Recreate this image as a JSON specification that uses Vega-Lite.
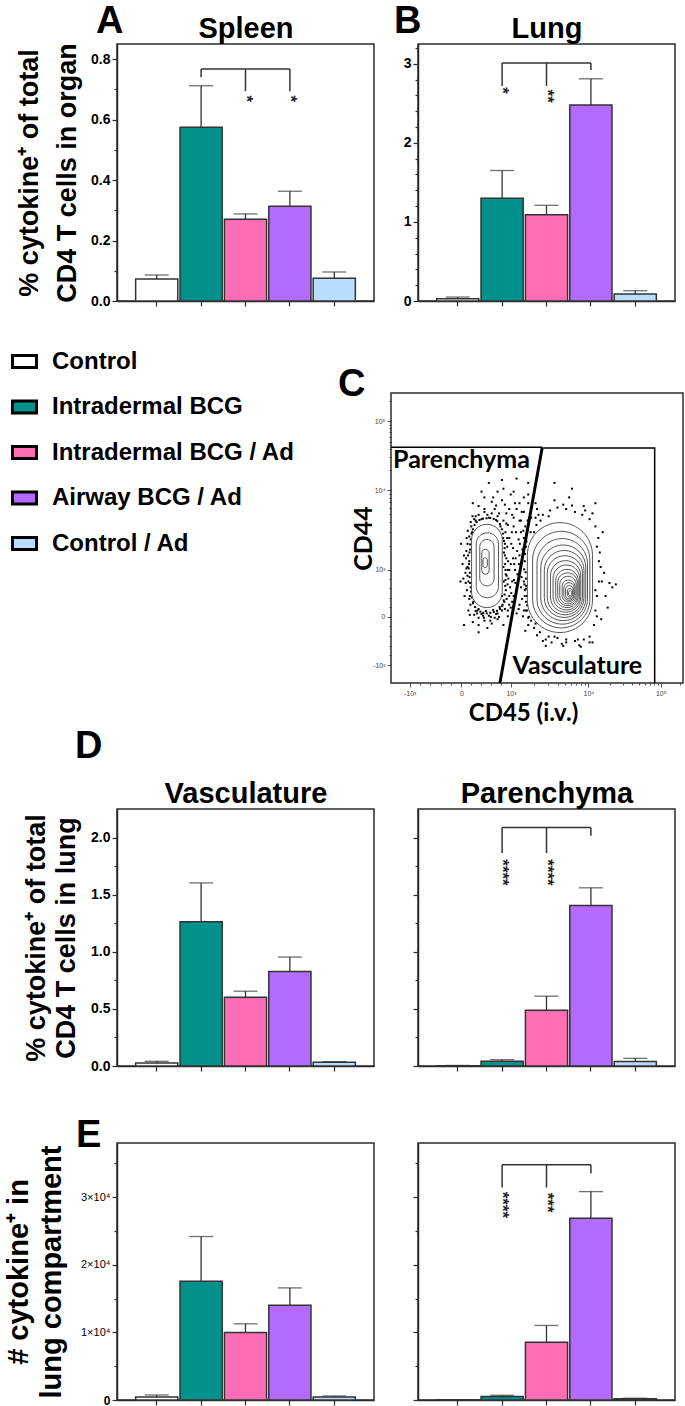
{
  "$schema": "https://vega.github.io/schema/vega-lite/v6.json",
  "padding": {"left": 3, "top": 2, "right": 0, "bottom": 0},
  "background": "white",
  "config": {
    "font": "Liberation Sans",
    "view": {"stroke": "#2b2b2b", "strokeWidth": 1.5},
    "axis": {
      "grid": false, "domainColor": "#2b2b2b", "domainWidth": 1.5, "tickColor": "#2b2b2b", "tickWidth": 1.2,
      "labelFont": "Liberation Sans", "labelFontWeight": "bold", "labelFontSize": 14, "labelColor": "black",
      "labelPadding": 2, "labelOverlap": false, "labelFlush": false,
      "titleFont": "Liberation Sans", "titleFontWeight": "bold", "titleColor": "black"
    },
    "title": {"font": "Liberation Sans", "fontWeight": "bold", "fontSize": 38, "color": "black", "anchor": "start", "frame": "group", "baseline": "alphabetic"}
  },
  "datasets": {
    "bars": [
      {"panel": "Spleen", "group": "Control", "mean": 0.073, "upper": 0.086},
      {"panel": "Spleen", "group": "Intradermal BCG", "mean": 0.575, "upper": 0.712},
      {"panel": "Spleen", "group": "Intradermal BCG / Ad", "mean": 0.27, "upper": 0.288},
      {"panel": "Spleen", "group": "Airway BCG / Ad", "mean": 0.313, "upper": 0.363},
      {"panel": "Spleen", "group": "Control / Ad", "mean": 0.075, "upper": 0.096},
      {"panel": "Lung", "group": "Control", "mean": 0.03, "upper": 0.05},
      {"panel": "Lung", "group": "Intradermal BCG", "mean": 1.3, "upper": 1.65},
      {"panel": "Lung", "group": "Intradermal BCG / Ad", "mean": 1.09, "upper": 1.21},
      {"panel": "Lung", "group": "Airway BCG / Ad", "mean": 2.48, "upper": 2.81},
      {"panel": "Lung", "group": "Control / Ad", "mean": 0.09, "upper": 0.13},
      {"panel": "VascPct", "group": "Control", "mean": 0.026, "upper": 0.041},
      {"panel": "VascPct", "group": "Intradermal BCG", "mean": 1.263, "upper": 1.603},
      {"panel": "VascPct", "group": "Intradermal BCG / Ad", "mean": 0.602, "upper": 0.655},
      {"panel": "VascPct", "group": "Airway BCG / Ad", "mean": 0.828, "upper": 0.954},
      {"panel": "VascPct", "group": "Control / Ad", "mean": 0.032, "upper": 0.038},
      {"panel": "ParPct", "group": "Control", "mean": 0.003, "upper": 0.005},
      {"panel": "ParPct", "group": "Intradermal BCG", "mean": 0.041, "upper": 0.055},
      {"panel": "ParPct", "group": "Intradermal BCG / Ad", "mean": 0.488, "upper": 0.611},
      {"panel": "ParPct", "group": "Airway BCG / Ad", "mean": 1.405, "upper": 1.56},
      {"panel": "ParPct", "group": "Control / Ad", "mean": 0.04, "upper": 0.067},
      {"panel": "VascNum", "group": "Control", "mean": 447, "upper": 744},
      {"panel": "VascNum", "group": "Intradermal BCG", "mean": 17568, "upper": 24169},
      {"panel": "VascNum", "group": "Intradermal BCG / Ad", "mean": 9975, "upper": 11266},
      {"panel": "VascNum", "group": "Airway BCG / Ad", "mean": 13995, "upper": 16576},
      {"panel": "VascNum", "group": "Control / Ad", "mean": 447, "upper": 596},
      {"panel": "ParNum", "group": "Control", "mean": 30, "upper": 50},
      {"panel": "ParNum", "group": "Intradermal BCG", "mean": 504, "upper": 696},
      {"panel": "ParNum", "group": "Intradermal BCG / Ad", "mean": 8548, "upper": 11022},
      {"panel": "ParNum", "group": "Airway BCG / Ad", "mean": 26874, "upper": 30815},
      {"panel": "ParNum", "group": "Control / Ad", "mean": 180, "upper": 260}
    ],
    "bracket_h": [
      {"panel": "Spleen", "from": "Intradermal BCG", "to": "Airway BCG / Ad", "y": 0.767},
      {"panel": "Lung", "from": "Intradermal BCG", "to": "Airway BCG / Ad", "y": 3.01},
      {"panel": "ParPct", "from": "Intradermal BCG", "to": "Airway BCG / Ad", "y": 2.089},
      {"panel": "ParNum", "from": "Intradermal BCG", "to": "Airway BCG / Ad", "y": 34770}
    ],
    "bracket_v": [
      {"panel": "Spleen", "group": "Intradermal BCG", "y": 0.767, "y2": 0.74},
      {"panel": "Spleen", "group": "Intradermal BCG / Ad", "y": 0.767, "y2": 0.694},
      {"panel": "Spleen", "group": "Airway BCG / Ad", "y": 0.767, "y2": 0.694},
      {"panel": "Lung", "group": "Intradermal BCG", "y": 3.01, "y2": 2.72},
      {"panel": "Lung", "group": "Intradermal BCG / Ad", "y": 3.01, "y2": 2.72},
      {"panel": "Lung", "group": "Airway BCG / Ad", "y": 3.01, "y2": 2.92},
      {"panel": "ParPct", "group": "Intradermal BCG", "y": 2.089, "y2": 1.864},
      {"panel": "ParPct", "group": "Intradermal BCG / Ad", "y": 2.089, "y2": 1.864},
      {"panel": "ParPct", "group": "Airway BCG / Ad", "y": 2.089, "y2": 2.016},
      {"panel": "ParNum", "group": "Intradermal BCG", "y": 34770, "y2": 31407},
      {"panel": "ParNum", "group": "Intradermal BCG / Ad", "y": 34770, "y2": 31407},
      {"panel": "ParNum", "group": "Airway BCG / Ad", "y": 34770, "y2": 33481}
    ],
    "stars": [
      {"panel": "Spleen", "group": "Intradermal BCG / Ad", "y": 0.669, "label": "*"},
      {"panel": "Spleen", "group": "Airway BCG / Ad", "y": 0.669, "label": "*"},
      {"panel": "Lung", "group": "Intradermal BCG", "y": 2.66, "label": "*"},
      {"panel": "Lung", "group": "Intradermal BCG / Ad", "y": 2.59, "label": "**"},
      {"panel": "ParPct", "group": "Intradermal BCG", "y": 1.694, "label": "****"},
      {"panel": "ParPct", "group": "Intradermal BCG / Ad", "y": 1.694, "label": "****"},
      {"panel": "ParNum", "group": "Intradermal BCG", "y": 28844, "label": "****"},
      {"panel": "ParNum", "group": "Intradermal BCG / Ad", "y": 29185, "label": "***"}
    ],
    "contours": [
      {"pop": "left", "x1": 276, "x2": 381, "y1": 260, "y2": 547},
      {"pop": "left", "x1": 292, "x2": 368, "y1": 294, "y2": 518},
      {"pop": "left", "x1": 304, "x2": 353, "y1": 335, "y2": 495},
      {"pop": "left", "x1": 311, "x2": 336, "y1": 375, "y2": 461},
      {"pop": "left", "x1": 315, "x2": 330, "y1": 398, "y2": 432},
      {"pop": "right", "x1": 467, "x2": 690, "y1": 174, "y2": 553},
      {"pop": "right", "x1": 485, "x2": 681, "y1": 190, "y2": 523},
      {"pop": "right", "x1": 500, "x2": 673, "y1": 203, "y2": 498},
      {"pop": "right", "x1": 513, "x2": 667, "y1": 215, "y2": 476},
      {"pop": "right", "x1": 525, "x2": 661, "y1": 226, "y2": 457},
      {"pop": "right", "x1": 535, "x2": 656, "y1": 235, "y2": 439},
      {"pop": "right", "x1": 546, "x2": 650, "y1": 244, "y2": 422},
      {"pop": "right", "x1": 555, "x2": 646, "y1": 252, "y2": 407},
      {"pop": "right", "x1": 564, "x2": 641, "y1": 260, "y2": 392},
      {"pop": "right", "x1": 571, "x2": 638, "y1": 267, "y2": 380},
      {"pop": "right", "x1": 578, "x2": 634, "y1": 273, "y2": 368},
      {"pop": "right", "x1": 586, "x2": 630, "y1": 280, "y2": 355},
      {"pop": "right", "x1": 592, "x2": 627, "y1": 285, "y2": 346},
      {"pop": "right", "x1": 598, "x2": 624, "y1": 290, "y2": 336},
      {"pop": "right", "x1": 604, "x2": 621, "y1": 296, "y2": 326},
      {"pop": "right", "x1": 608, "x2": 619, "y1": 300, "y2": 318}
    ],
    "gates": [
      {"seg": "parenchyma", "ord": 1, "x": 0, "y": 813},
      {"seg": "parenchyma", "ord": 2, "x": 518, "y": 813},
      {"seg": "vasculature", "ord": 1, "x": 522, "y": 810},
      {"seg": "vasculature", "ord": 2, "x": 903, "y": 810},
      {"seg": "vasculature", "ord": 3, "x": 903, "y": 0},
      {"seg": "diagonal", "ord": 1, "x": 518, "y": 813},
      {"seg": "diagonal", "ord": 2, "x": 373, "y": 0}
    ],
    "gate_labels": [
      {"label": "Parenchyma", "x": 7, "y": 742},
      {"label": "Vasculature", "x": 416, "y": 31}
    ],
    "dots": [
      {"x": 262, "y": 400}, {"x": 258, "y": 455}, {"x": 265, "y": 350}, {"x": 270, "y": 300}, {"x": 268, "y": 505},
      {"x": 275, "y": 540}, {"x": 285, "y": 565}, {"x": 300, "y": 580}, {"x": 320, "y": 590}, {"x": 345, "y": 585},
      {"x": 365, "y": 575}, {"x": 385, "y": 560}, {"x": 392, "y": 520}, {"x": 398, "y": 470}, {"x": 401, "y": 420},
      {"x": 396, "y": 370}, {"x": 393, "y": 320}, {"x": 388, "y": 280}, {"x": 380, "y": 250}, {"x": 360, "y": 238},
      {"x": 335, "y": 232}, {"x": 310, "y": 238}, {"x": 290, "y": 248}, {"x": 272, "y": 270}, {"x": 260, "y": 320},
      {"x": 255, "y": 380}, {"x": 257, "y": 430}, {"x": 262, "y": 480}, {"x": 250, "y": 440}, {"x": 248, "y": 360},
      {"x": 279, "y": 575}, {"x": 355, "y": 600}, {"x": 400, "y": 545}, {"x": 405, "y": 300}, {"x": 300, "y": 225},
      {"x": 340, "y": 215}, {"x": 370, "y": 228}, {"x": 265, "y": 250}, {"x": 252, "y": 300}, {"x": 245, "y": 410},
      {"x": 280, "y": 210}, {"x": 300, "y": 200}, {"x": 320, "y": 215}, {"x": 345, "y": 205}, {"x": 365, "y": 220},
      {"x": 385, "y": 200}, {"x": 400, "y": 230}, {"x": 270, "y": 235},
      {"x": 270, "y": 380}, {"x": 268, "y": 420}, {"x": 271, "y": 460}, {"x": 273, "y": 330}, {"x": 385, "y": 400},
      {"x": 386, "y": 350}, {"x": 387, "y": 450}, {"x": 384, "y": 500}, {"x": 380, "y": 300}, {"x": 290, "y": 560},
      {"x": 310, "y": 565}, {"x": 335, "y": 570}, {"x": 360, "y": 562}, {"x": 300, "y": 255}, {"x": 325, "y": 248},
      {"x": 350, "y": 252}, {"x": 372, "y": 262}, {"x": 282, "y": 280}, {"x": 278, "y": 520}, {"x": 375, "y": 540},
      {"x": 262, "y": 370}, {"x": 264, "y": 440}, {"x": 395, "y": 430}, {"x": 392, "y": 390}, {"x": 390, "y": 480},
      {"x": 382, "y": 270}, {"x": 295, "y": 240}, {"x": 318, "y": 225}, {"x": 355, "y": 225}, {"x": 268, "y": 290},
      {"x": 266, "y": 395}, {"x": 267, "y": 410}, {"x": 269, "y": 365}, {"x": 271, "y": 345}, {"x": 274, "y": 315},
      {"x": 277, "y": 295}, {"x": 281, "y": 275}, {"x": 288, "y": 262}, {"x": 296, "y": 250}, {"x": 306, "y": 246},
      {"x": 316, "y": 242}, {"x": 328, "y": 240}, {"x": 340, "y": 242}, {"x": 352, "y": 245}, {"x": 363, "y": 249},
      {"x": 373, "y": 255}, {"x": 381, "y": 265}, {"x": 386, "y": 285}, {"x": 389, "y": 305}, {"x": 391, "y": 335},
      {"x": 392, "y": 355}, {"x": 393, "y": 375}, {"x": 391, "y": 410}, {"x": 390, "y": 440}, {"x": 389, "y": 465},
      {"x": 387, "y": 490}, {"x": 384, "y": 515}, {"x": 380, "y": 530}, {"x": 373, "y": 548}, {"x": 364, "y": 558},
      {"x": 352, "y": 566}, {"x": 340, "y": 569}, {"x": 327, "y": 568}, {"x": 315, "y": 567}, {"x": 303, "y": 562},
      {"x": 293, "y": 555}, {"x": 286, "y": 545}, {"x": 280, "y": 530}, {"x": 276, "y": 515}, {"x": 273, "y": 495},
      {"x": 271, "y": 478}, {"x": 269, "y": 450}, {"x": 258, "y": 395}, {"x": 256, "y": 345}, {"x": 259, "y": 500},
      {"x": 263, "y": 525}, {"x": 273, "y": 555}, {"x": 290, "y": 575}, {"x": 330, "y": 580}, {"x": 370, "y": 585},
      {"x": 395, "y": 550}, {"x": 398, "y": 500}, {"x": 400, "y": 390}, {"x": 399, "y": 340}, {"x": 396, "y": 290},
      {"x": 390, "y": 255}, {"x": 365, "y": 240}, {"x": 342, "y": 228}, {"x": 315, "y": 232}, {"x": 285, "y": 235},
      {"x": 410, "y": 260}, {"x": 420, "y": 300}, {"x": 415, "y": 350}, {"x": 425, "y": 390}, {"x": 418, "y": 430},
      {"x": 412, "y": 480}, {"x": 428, "y": 520}, {"x": 440, "y": 270}, {"x": 445, "y": 330}, {"x": 438, "y": 410},
      {"x": 450, "y": 460}, {"x": 455, "y": 500}, {"x": 462, "y": 280}, {"x": 455, "y": 350}, {"x": 458, "y": 420},
      {"x": 462, "y": 470}, {"x": 458, "y": 300}, {"x": 462, "y": 250}, {"x": 461, "y": 382}, {"x": 459, "y": 445},
      {"x": 430, "y": 240}, {"x": 452, "y": 230}, {"x": 470, "y": 225}, {"x": 405, "y": 390}, {"x": 432, "y": 455},
      {"x": 447, "y": 365}, {"x": 460, "y": 540}, {"x": 440, "y": 560}, {"x": 420, "y": 570}, {"x": 478, "y": 520},
      {"x": 464, "y": 488}, {"x": 463, "y": 335}, {"x": 472, "y": 228}, {"x": 408, "y": 330}, {"x": 426, "y": 345},
      {"x": 458, "y": 320}, {"x": 437, "y": 495}, {"x": 414, "y": 520}, {"x": 457, "y": 340}, {"x": 456, "y": 392},
      {"x": 400, "y": 250}, {"x": 415, "y": 280}, {"x": 430, "y": 320}, {"x": 402, "y": 360}, {"x": 422, "y": 410},
      {"x": 440, "y": 440}, {"x": 455, "y": 470}, {"x": 405, "y": 500}, {"x": 420, "y": 540}, {"x": 445, "y": 520},
      {"x": 465, "y": 300}, {"x": 462, "y": 360}, {"x": 490, "y": 520}, {"x": 468, "y": 560}, {"x": 448, "y": 590},
      {"x": 425, "y": 620}, {"x": 470, "y": 620}, {"x": 498, "y": 545}, {"x": 466, "y": 250}, {"x": 470, "y": 200},
      {"x": 460, "y": 180}, {"x": 495, "y": 205}, {"x": 455, "y": 250},
      {"x": 405, "y": 270}, {"x": 412, "y": 310}, {"x": 421, "y": 355}, {"x": 433, "y": 375}, {"x": 427, "y": 430},
      {"x": 441, "y": 480}, {"x": 453, "y": 525}, {"x": 449, "y": 290}, {"x": 437, "y": 255}, {"x": 466, "y": 268},
      {"x": 410, "y": 410}, {"x": 418, "y": 465}, {"x": 446, "y": 415}, {"x": 462, "y": 325}, {"x": 452, "y": 440},
      {"x": 300, "y": 610}, {"x": 320, "y": 640}, {"x": 345, "y": 625}, {"x": 365, "y": 660}, {"x": 390, "y": 615},
      {"x": 410, "y": 650}, {"x": 430, "y": 600}, {"x": 455, "y": 640}, {"x": 470, "y": 690}, {"x": 495, "y": 620},
      {"x": 380, "y": 700}, {"x": 335, "y": 690}, {"x": 430, "y": 705}, {"x": 505, "y": 580}, {"x": 480, "y": 570},
      {"x": 415, "y": 580}, {"x": 360, "y": 612}, {"x": 310, "y": 660}, {"x": 445, "y": 560}, {"x": 395, "y": 585},
      {"x": 320, "y": 600}, {"x": 350, "y": 640}, {"x": 380, "y": 630}, {"x": 405, "y": 600}, {"x": 440, "y": 620},
      {"x": 470, "y": 650}, {"x": 500, "y": 600}, {"x": 455, "y": 590}, {"x": 420, "y": 660}, {"x": 385, "y": 670},
      {"x": 520, "y": 580}, {"x": 545, "y": 595}, {"x": 570, "y": 605}, {"x": 600, "y": 600}, {"x": 630, "y": 590},
      {"x": 655, "y": 580}, {"x": 680, "y": 565}, {"x": 700, "y": 540}, {"x": 710, "y": 500}, {"x": 715, "y": 450},
      {"x": 718, "y": 400}, {"x": 712, "y": 350}, {"x": 705, "y": 300}, {"x": 700, "y": 250}, {"x": 695, "y": 200},
      {"x": 680, "y": 160}, {"x": 660, "y": 150}, {"x": 630, "y": 145}, {"x": 600, "y": 150}, {"x": 570, "y": 155},
      {"x": 540, "y": 160}, {"x": 510, "y": 175}, {"x": 490, "y": 190}, {"x": 480, "y": 215}, {"x": 512, "y": 560},
      {"x": 540, "y": 575}, {"x": 590, "y": 615}, {"x": 620, "y": 612}, {"x": 665, "y": 595}, {"x": 690, "y": 585},
      {"x": 725, "y": 520}, {"x": 730, "y": 380}, {"x": 735, "y": 300}, {"x": 720, "y": 220}, {"x": 690, "y": 140},
      {"x": 645, "y": 130}, {"x": 585, "y": 135}, {"x": 520, "y": 145}, {"x": 560, "y": 630}, {"x": 610, "y": 640},
      {"x": 500, "y": 165}, {"x": 530, "y": 150}, {"x": 560, "y": 160}, {"x": 600, "y": 140}, {"x": 640, "y": 150},
      {"x": 470, "y": 560}, {"x": 495, "y": 570}, {"x": 705, "y": 470}, {"x": 712, "y": 420}, {"x": 705, "y": 230},
      {"x": 680, "y": 140}, {"x": 550, "y": 140}, {"x": 700, "y": 320}, {"x": 722, "y": 350}, {"x": 660, "y": 610},
      {"x": 758, "y": 330}, {"x": 748, "y": 345}, {"x": 742, "y": 260}, {"x": 530, "y": 128}, {"x": 650, "y": 125},
      {"x": 590, "y": 128}, {"x": 300, "y": 175}, {"x": 330, "y": 190}, {"x": 250, "y": 200}, {"x": 238, "y": 350},
      {"x": 240, "y": 480}, {"x": 280, "y": 620}, {"x": 560, "y": 690}, {"x": 620, "y": 670}, {"x": 700, "y": 620},
      {"x": 770, "y": 340}
    ]
  },
  "columns": 2,
  "spacing": {"row": 0, "column": 44},
  "bounds": "flush",
  "resolve": {"legend": {"color": "independent"}},
  "concat": [
    {
      "width": 257, "height": 257,
      "title": {"text": "A", "dx": -21, "offset": -27},
      "layer": [
        {
          "data": {"name": "bars"},
          "transform": [{"filter": "datum.panel == 'Spleen'"}],
          "mark": {"type": "bar", "stroke": "#333333", "strokeWidth": 1.5},
          "encoding": {
            "x": {"field": "group", "type": "nominal",
              "scale": {"domain": ["Control", "Intradermal BCG", "Intradermal BCG / Ad", "Airway BCG / Ad", "Control / Ad"], "paddingInner": 0.05, "paddingOuter": 0.42},
              "axis": {"labels": false, "tickSize": 5, "title": "Spleen", "titleFontSize": 29, "titleX": 128.5, "titleY": -264, "titleAlign": "center", "titleBaseline": "alphabetic"}},
            "y": {"field": "mean", "type": "quantitative", "scale": {"domain": [0, 0.85], "nice": false},
              "axis": {"values": [0, 0.1, 0.2, 0.3, 0.4, 0.5, 0.6, 0.7, 0.8], "tickCount": 100, "labelOverlap": false,
                "labelExpr": "round(datum.value*10) % 2 == 0 ? format(datum.value, '.1f') : ''",
                "tickSize": {"condition": {"test": "round(datum.value*10) % 2 == 0", "value": 5}, "value": 3},
                "title": ["% cytokine⁺ of total", "CD4 T cells in organ"], "titleFontSize": 27, "titleX": -80, "titleY": 128.5,
                "titleAngle": -90, "titleAlign": "center", "titleBaseline": "alphabetic", "titleLineHeight": 38}},
            "color": {"field": "group", "type": "nominal",
              "scale": {"domain": ["Control", "Intradermal BCG", "Intradermal BCG / Ad", "Airway BCG / Ad", "Control / Ad"], "range": ["#ffffff", "#00918d", "#ff6eb4", "#b36bff", "#b9dcff"]},
              "legend": {"orient": "none", "legendX": -106, "legendY": 304, "title": null, "padding": 0,
                "symbolType": "M-1,-0.5H1V0.5H-1Z", "symbolSize": 576, "symbolStrokeWidth": 3, "symbolStrokeColor": "black",
                "labelFont": "Liberation Sans", "labelFontWeight": "bold", "labelFontSize": 24, "labelColor": "black",
                "labelOffset": 14, "labelLimit": 400, "rowPadding": 19.5,
                "encode": {"symbols": {"update": {"stroke": {"value": "black"}, "strokeWidth": {"value": 3}}}}}}
          }
        },
        {
          "data": {"name": "bars"},
          "transform": [{"filter": "datum.panel == 'Spleen'"}],
          "mark": {"type": "rule", "color": "#333333", "strokeWidth": 1.3},
          "encoding": {
            "x": {"field": "group", "type": "nominal", "scale": {"domain": ["Control", "Intradermal BCG", "Intradermal BCG / Ad", "Airway BCG / Ad", "Control / Ad"], "paddingInner": 0.05, "paddingOuter": 0.42}},
            "y": {"field": "mean", "type": "quantitative", "scale": {"domain": [0, 0.85], "nice": false}},
            "y2": {"field": "upper"}
          }
        },
        {
          "data": {"name": "bars"},
          "transform": [{"filter": "datum.panel == 'Spleen'"}],
          "mark": {"type": "tick", "color": "#333333", "thickness": 1.3, "size": 24},
          "encoding": {
            "x": {"field": "group", "type": "nominal", "scale": {"domain": ["Control", "Intradermal BCG", "Intradermal BCG / Ad", "Airway BCG / Ad", "Control / Ad"], "paddingInner": 0.05, "paddingOuter": 0.42}},
            "y": {"field": "upper", "type": "quantitative", "scale": {"domain": [0, 0.85], "nice": false}}
          }
        },
        {
          "data": {"name": "bracket_h"},
          "transform": [{"filter": "datum.panel == 'Spleen'"}],
          "mark": {"type": "rule", "color": "#333333", "strokeWidth": 1.5},
          "encoding": {
            "x": {"field": "from", "type": "nominal", "scale": {"domain": ["Control", "Intradermal BCG", "Intradermal BCG / Ad", "Airway BCG / Ad", "Control / Ad"], "paddingInner": 0.05, "paddingOuter": 0.42}},
            "x2": {"field": "to"},
            "y": {"field": "y", "type": "quantitative", "scale": {"domain": [0, 0.85], "nice": false}}
          }
        },
        {
          "data": {"name": "bracket_v"},
          "transform": [{"filter": "datum.panel == 'Spleen'"}],
          "mark": {"type": "rule", "color": "#333333", "strokeWidth": 1.5},
          "encoding": {
            "x": {"field": "group", "type": "nominal", "scale": {"domain": ["Control", "Intradermal BCG", "Intradermal BCG / Ad", "Airway BCG / Ad", "Control / Ad"], "paddingInner": 0.05, "paddingOuter": 0.42}},
            "y": {"field": "y", "type": "quantitative", "scale": {"domain": [0, 0.85], "nice": false}},
            "y2": {"field": "y2"}
          }
        },
        {
          "data": {"name": "stars"},
          "transform": [{"filter": "datum.panel == 'Spleen'"}],
          "mark": {"type": "text", "angle": 90, "fontSize": 17, "fontWeight": "bold", "color": "#222222"},
          "encoding": {
            "x": {"field": "group", "type": "nominal", "scale": {"domain": ["Control", "Intradermal BCG", "Intradermal BCG / Ad", "Airway BCG / Ad", "Control / Ad"], "paddingInner": 0.05, "paddingOuter": 0.42}},
            "y": {"field": "y", "type": "quantitative", "scale": {"domain": [0, 0.85], "nice": false}},
            "text": {"field": "label"}
          }
        }
      ]
    },
    {
      "width": 257, "height": 257,
      "title": {"text": "B", "dx": -24, "offset": -27},
      "layer": [
        {
          "data": {"name": "bars"},
          "transform": [{"filter": "datum.panel == 'Lung'"}],
          "mark": {"type": "bar", "stroke": "#333333", "strokeWidth": 1.5},
          "encoding": {
            "x": {"field": "group", "type": "nominal",
              "scale": {"domain": ["Control", "Intradermal BCG", "Intradermal BCG / Ad", "Airway BCG / Ad", "Control / Ad"], "paddingInner": 0.05, "paddingOuter": 0.42},
              "axis": {"labels": false, "tickSize": 5, "title": "Lung", "titleFontSize": 29, "titleX": 128.5, "titleY": -264, "titleAlign": "center", "titleBaseline": "alphabetic"}},
            "y": {"field": "mean", "type": "quantitative", "scale": {"domain": [0, 3.25], "nice": false},
              "axis": {"values": [0, 0.2, 0.4, 0.6, 0.8, 1, 1.2, 1.4, 1.6, 1.8, 2, 2.2, 2.4, 2.6, 2.8, 3, 3.2], "tickCount": 100, "labelOverlap": false,
                "labelExpr": "indexof([0, 1, 2, 3], datum.value) >= 0 ? format(datum.value, 'd') : ''",
                "tickSize": {"condition": {"test": "indexof([0, 1, 2, 3], datum.value) >= 0", "value": 5}, "value": 3},
                "title": null}},
            "color": {"field": "group", "type": "nominal",
              "scale": {"domain": ["Control", "Intradermal BCG", "Intradermal BCG / Ad", "Airway BCG / Ad", "Control / Ad"], "range": ["#ffffff", "#00918d", "#ff6eb4", "#b36bff", "#b9dcff"]},
              "legend": null}
          }
        },
        {
          "data": {"name": "bars"},
          "transform": [{"filter": "datum.panel == 'Lung'"}],
          "mark": {"type": "rule", "color": "#333333", "strokeWidth": 1.3},
          "encoding": {
            "x": {"field": "group", "type": "nominal", "scale": {"domain": ["Control", "Intradermal BCG", "Intradermal BCG / Ad", "Airway BCG / Ad", "Control / Ad"], "paddingInner": 0.05, "paddingOuter": 0.42}},
            "y": {"field": "mean", "type": "quantitative", "scale": {"domain": [0, 3.25], "nice": false}},
            "y2": {"field": "upper"}
          }
        },
        {
          "data": {"name": "bars"},
          "transform": [{"filter": "datum.panel == 'Lung'"}],
          "mark": {"type": "tick", "color": "#333333", "thickness": 1.3, "size": 24},
          "encoding": {
            "x": {"field": "group", "type": "nominal", "scale": {"domain": ["Control", "Intradermal BCG", "Intradermal BCG / Ad", "Airway BCG / Ad", "Control / Ad"], "paddingInner": 0.05, "paddingOuter": 0.42}},
            "y": {"field": "upper", "type": "quantitative", "scale": {"domain": [0, 3.25], "nice": false}}
          }
        },
        {
          "data": {"name": "bracket_h"},
          "transform": [{"filter": "datum.panel == 'Lung'"}],
          "mark": {"type": "rule", "color": "#333333", "strokeWidth": 1.5},
          "encoding": {
            "x": {"field": "from", "type": "nominal", "scale": {"domain": ["Control", "Intradermal BCG", "Intradermal BCG / Ad", "Airway BCG / Ad", "Control / Ad"], "paddingInner": 0.05, "paddingOuter": 0.42}},
            "x2": {"field": "to"},
            "y": {"field": "y", "type": "quantitative", "scale": {"domain": [0, 3.25], "nice": false}}
          }
        },
        {
          "data": {"name": "bracket_v"},
          "transform": [{"filter": "datum.panel == 'Lung'"}],
          "mark": {"type": "rule", "color": "#333333", "strokeWidth": 1.5},
          "encoding": {
            "x": {"field": "group", "type": "nominal", "scale": {"domain": ["Control", "Intradermal BCG", "Intradermal BCG / Ad", "Airway BCG / Ad", "Control / Ad"], "paddingInner": 0.05, "paddingOuter": 0.42}},
            "y": {"field": "y", "type": "quantitative", "scale": {"domain": [0, 3.25], "nice": false}},
            "y2": {"field": "y2"}
          }
        },
        {
          "data": {"name": "stars"},
          "transform": [{"filter": "datum.panel == 'Lung'"}],
          "mark": {"type": "text", "angle": 90, "fontSize": 17, "fontWeight": "bold", "color": "#222222"},
          "encoding": {
            "x": {"field": "group", "type": "nominal", "scale": {"domain": ["Control", "Intradermal BCG", "Intradermal BCG / Ad", "Airway BCG / Ad", "Control / Ad"], "paddingInner": 0.05, "paddingOuter": 0.42}},
            "y": {"field": "y", "type": "quantitative", "scale": {"domain": [0, 3.25], "nice": false}},
            "text": {"field": "label"}
          }
        }
      ]
    },
    {"width": 257, "height": 92, "data": {"values": [{"k": 0}]}, "mark": {"type": "point", "opacity": 0}, "view": {"stroke": null}},
    {"width": 257, "height": 92, "data": {"values": [{"k": 0}]}, "mark": {"type": "point", "opacity": 0}, "view": {"stroke": null}},
    {
      "hconcat": [
        {"width": 230, "height": 290, "data": {"values": [{"k": 0}]}, "mark": {"type": "point", "opacity": 0}, "view": {"stroke": null}},
        {
          "width": 292, "height": 290,
          "title": {"text": "C", "dx": -53, "offset": -11},
          "layer": [
            {
              "data": {"name": "dots"},
              "mark": {"type": "square", "size": 4, "color": "black", "opacity": 1},
              "encoding": {
                "x": {"field": "x", "type": "quantitative", "scale": {"domain": [0, 1000], "nice": false, "zero": false},
                  "axis": {"values": [64, 99, 135, 170, 206, 241, 275, 309, 343, 377, 411, 491, 537, 571, 596, 617, 635, 650, 664, 676, 751, 794, 825, 849, 869, 886, 900, 913, 924, 990],
                    "tickCount": 100, "labelOverlap": false,
                    "labelExpr": "datum.value == 64 ? '-10³' : datum.value == 241 ? '0' : datum.value == 411 ? '10³' : datum.value == 676 ? '10⁴' : datum.value == 924 ? '10⁵' : ''",
                    "labelFontSize": 7, "labelFontWeight": "normal", "labelColor": "#444444", "domain": false, "tickWidth": 0.8,
                    "tickSize": {"condition": {"test": "indexof([64, 241, 411, 676, 924], datum.value) >= 0", "value": 4}, "value": 2},
                    "title": "CD45 (i.v.)", "titleFont": "Lato", "titleFontSize": 24, "titleX": 132, "titleY": 37, "titleAlign": "center", "titleBaseline": "alphabetic"}},
                "y": {"field": "y", "type": "quantitative", "scale": {"domain": [0, 1000], "nice": false, "zero": false},
                  "axis": {"values": [62, 95, 129, 162, 196, 229, 261, 294, 326, 359, 391, 473, 522, 556, 583, 604, 623, 638, 652, 665, 736, 778, 808, 831, 849, 865, 879, 891, 902, 973],
                    "tickCount": 100, "labelOverlap": false,
                    "labelExpr": "datum.value == 62 ? '-10³' : datum.value == 229 ? '0' : datum.value == 391 ? '10³' : datum.value == 665 ? '10⁴' : datum.value == 902 ? '10⁵' : ''",
                    "labelFontSize": 7, "labelFontWeight": "normal", "labelColor": "#444444", "domain": false, "tickWidth": 0.8,
                    "tickSize": {"condition": {"test": "indexof([62, 229, 391, 665, 902], datum.value) >= 0", "value": 4}, "value": 2},
                    "title": "CD44", "titleFont": "Lato", "titleFontSize": 25, "titleX": -20, "titleY": 145, "titleAngle": -90, "titleAlign": "center", "titleBaseline": "alphabetic"}}
              }
            },
            {
              "data": {"name": "contours"},
              "mark": {"type": "rect", "fill": "white", "fillOpacity": 0, "stroke": "#555555", "strokeWidth": 1, "cornerRadius": 400},
              "encoding": {
                "x": {"field": "x1", "type": "quantitative", "scale": {"domain": [0, 1000], "nice": false, "zero": false}},
                "x2": {"field": "x2"},
                "y": {"field": "y1", "type": "quantitative", "scale": {"domain": [0, 1000], "nice": false, "zero": false}},
                "y2": {"field": "y2"}
              }
            },
            {
              "data": {"name": "gates"},
              "transform": [{"filter": "datum.seg != 'diagonal'"}],
              "mark": {"type": "line", "color": "black", "strokeWidth": 1.5},
              "encoding": {
                "x": {"field": "x", "type": "quantitative", "scale": {"domain": [0, 1000], "nice": false, "zero": false}},
                "y": {"field": "y", "type": "quantitative", "scale": {"domain": [0, 1000], "nice": false, "zero": false}},
                "detail": {"field": "seg"},
                "order": {"field": "ord"}
              }
            },
            {
              "data": {"name": "gates"},
              "transform": [{"filter": "datum.seg == 'diagonal'"}],
              "mark": {"type": "line", "color": "black", "strokeWidth": 3},
              "encoding": {
                "x": {"field": "x", "type": "quantitative", "scale": {"domain": [0, 1000], "nice": false, "zero": false}},
                "y": {"field": "y", "type": "quantitative", "scale": {"domain": [0, 1000], "nice": false, "zero": false}},
                "order": {"field": "ord"}
              }
            },
            {
              "data": {"name": "gate_labels"},
              "mark": {"type": "text", "font": "Lato", "fontWeight": "bold", "fontSize": 25, "align": "left", "baseline": "alphabetic", "color": "black"},
              "encoding": {
                "x": {"field": "x", "type": "quantitative", "scale": {"domain": [0, 1000], "nice": false, "zero": false}},
                "y": {"field": "y", "type": "quantitative", "scale": {"domain": [0, 1000], "nice": false, "zero": false}},
                "text": {"field": "label"}
              }
            }
          ]
        }
      ],
      "spacing": 44,
      "bounds": "flush"
    },
    {"width": 257, "height": 290, "data": {"values": [{"k": 0}]}, "mark": {"type": "point", "opacity": 0}, "view": {"stroke": null}},
    {"width": 257, "height": 126, "data": {"values": [{"k": 0}]}, "mark": {"type": "point", "opacity": 0}, "view": {"stroke": null}},
    {"width": 257, "height": 126, "data": {"values": [{"k": 0}]}, "mark": {"type": "point", "opacity": 0}, "view": {"stroke": null}},
    {
      "width": 257, "height": 257,
      "title": {"text": "D", "dx": -42, "offset": 13},
      "layer": [
        {
          "data": {"name": "bars"},
          "transform": [{"filter": "datum.panel == 'VascPct'"}],
          "mark": {"type": "bar", "stroke": "#333333", "strokeWidth": 1.5},
          "encoding": {
            "x": {"field": "group", "type": "nominal",
              "scale": {"domain": ["Control", "Intradermal BCG", "Intradermal BCG / Ad", "Airway BCG / Ad", "Control / Ad"], "paddingInner": 0.05, "paddingOuter": 0.42},
              "axis": {"labels": false, "tickSize": 5, "title": "Vasculature", "titleFontSize": 29, "titleX": 128.5, "titleY": -264, "titleAlign": "center", "titleBaseline": "alphabetic"}},
            "y": {"field": "mean", "type": "quantitative", "scale": {"domain": [0, 2.25], "nice": false},
              "axis": {"values": [0, 0.25, 0.5, 0.75, 1, 1.25, 1.5, 1.75, 2], "tickCount": 100, "labelOverlap": false,
                "labelExpr": "indexof([0, 0.5, 1, 1.5, 2], datum.value) >= 0 ? format(datum.value, '.1f') : ''",
                "tickSize": {"condition": {"test": "indexof([0, 0.5, 1, 1.5, 2], datum.value) >= 0", "value": 5}, "value": 3},
                "title": ["% cytokine⁺ of total", "CD4 T cells in lung"], "titleFontSize": 27, "titleX": -73, "titleY": 128.5,
                "titleAngle": -90, "titleAlign": "center", "titleBaseline": "alphabetic", "titleLineHeight": 30}},
            "color": {"field": "group", "type": "nominal",
              "scale": {"domain": ["Control", "Intradermal BCG", "Intradermal BCG / Ad", "Airway BCG / Ad", "Control / Ad"], "range": ["#ffffff", "#00918d", "#ff6eb4", "#b36bff", "#b9dcff"]},
              "legend": null}
          }
        },
        {
          "data": {"name": "bars"},
          "transform": [{"filter": "datum.panel == 'VascPct'"}],
          "mark": {"type": "rule", "color": "#333333", "strokeWidth": 1.3},
          "encoding": {
            "x": {"field": "group", "type": "nominal", "scale": {"domain": ["Control", "Intradermal BCG", "Intradermal BCG / Ad", "Airway BCG / Ad", "Control / Ad"], "paddingInner": 0.05, "paddingOuter": 0.42}},
            "y": {"field": "mean", "type": "quantitative", "scale": {"domain": [0, 2.25], "nice": false}},
            "y2": {"field": "upper"}
          }
        },
        {
          "data": {"name": "bars"},
          "transform": [{"filter": "datum.panel == 'VascPct'"}],
          "mark": {"type": "tick", "color": "#333333", "thickness": 1.3, "size": 24},
          "encoding": {
            "x": {"field": "group", "type": "nominal", "scale": {"domain": ["Control", "Intradermal BCG", "Intradermal BCG / Ad", "Airway BCG / Ad", "Control / Ad"], "paddingInner": 0.05, "paddingOuter": 0.42}},
            "y": {"field": "upper", "type": "quantitative", "scale": {"domain": [0, 2.25], "nice": false}}
          }
        }
      ]
    },
    {
      "width": 257, "height": 257,
      "layer": [
        {
          "data": {"name": "bars"},
          "transform": [{"filter": "datum.panel == 'ParPct'"}],
          "mark": {"type": "bar", "stroke": "#333333", "strokeWidth": 1.5},
          "encoding": {
            "x": {"field": "group", "type": "nominal",
              "scale": {"domain": ["Control", "Intradermal BCG", "Intradermal BCG / Ad", "Airway BCG / Ad", "Control / Ad"], "paddingInner": 0.05, "paddingOuter": 0.42},
              "axis": {"labels": false, "tickSize": 5, "title": "Parenchyma", "titleFontSize": 29, "titleX": 128.5, "titleY": -264, "titleAlign": "center", "titleBaseline": "alphabetic"}},
            "y": {"field": "mean", "type": "quantitative", "scale": {"domain": [0, 2.25], "nice": false},
              "axis": {"values": [0, 0.25, 0.5, 0.75, 1, 1.25, 1.5, 1.75, 2], "tickCount": 100, "labels": false,
                "tickSize": {"condition": {"test": "indexof([0, 0.5, 1, 1.5, 2], datum.value) >= 0", "value": 5}, "value": 3},
                "title": null}},
            "color": {"field": "group", "type": "nominal",
              "scale": {"domain": ["Control", "Intradermal BCG", "Intradermal BCG / Ad", "Airway BCG / Ad", "Control / Ad"], "range": ["#ffffff", "#00918d", "#ff6eb4", "#b36bff", "#b9dcff"]},
              "legend": null}
          }
        },
        {
          "data": {"name": "bars"},
          "transform": [{"filter": "datum.panel == 'ParPct'"}],
          "mark": {"type": "rule", "color": "#333333", "strokeWidth": 1.3},
          "encoding": {
            "x": {"field": "group", "type": "nominal", "scale": {"domain": ["Control", "Intradermal BCG", "Intradermal BCG / Ad", "Airway BCG / Ad", "Control / Ad"], "paddingInner": 0.05, "paddingOuter": 0.42}},
            "y": {"field": "mean", "type": "quantitative", "scale": {"domain": [0, 2.25], "nice": false}},
            "y2": {"field": "upper"}
          }
        },
        {
          "data": {"name": "bars"},
          "transform": [{"filter": "datum.panel == 'ParPct'"}],
          "mark": {"type": "tick", "color": "#333333", "thickness": 1.3, "size": 24},
          "encoding": {
            "x": {"field": "group", "type": "nominal", "scale": {"domain": ["Control", "Intradermal BCG", "Intradermal BCG / Ad", "Airway BCG / Ad", "Control / Ad"], "paddingInner": 0.05, "paddingOuter": 0.42}},
            "y": {"field": "upper", "type": "quantitative", "scale": {"domain": [0, 2.25], "nice": false}}
          }
        },
        {
          "data": {"name": "bracket_h"},
          "transform": [{"filter": "datum.panel == 'ParPct'"}],
          "mark": {"type": "rule", "color": "#333333", "strokeWidth": 1.5},
          "encoding": {
            "x": {"field": "from", "type": "nominal", "scale": {"domain": ["Control", "Intradermal BCG", "Intradermal BCG / Ad", "Airway BCG / Ad", "Control / Ad"], "paddingInner": 0.05, "paddingOuter": 0.42}},
            "x2": {"field": "to"},
            "y": {"field": "y", "type": "quantitative", "scale": {"domain": [0, 2.25], "nice": false}}
          }
        },
        {
          "data": {"name": "bracket_v"},
          "transform": [{"filter": "datum.panel == 'ParPct'"}],
          "mark": {"type": "rule", "color": "#333333", "strokeWidth": 1.5},
          "encoding": {
            "x": {"field": "group", "type": "nominal", "scale": {"domain": ["Control", "Intradermal BCG", "Intradermal BCG / Ad", "Airway BCG / Ad", "Control / Ad"], "paddingInner": 0.05, "paddingOuter": 0.42}},
            "y": {"field": "y", "type": "quantitative", "scale": {"domain": [0, 2.25], "nice": false}},
            "y2": {"field": "y2"}
          }
        },
        {
          "data": {"name": "stars"},
          "transform": [{"filter": "datum.panel == 'ParPct'"}],
          "mark": {"type": "text", "angle": 90, "fontSize": 17, "fontWeight": "bold", "color": "#222222"},
          "encoding": {
            "x": {"field": "group", "type": "nominal", "scale": {"domain": ["Control", "Intradermal BCG", "Intradermal BCG / Ad", "Airway BCG / Ad", "Control / Ad"], "paddingInner": 0.05, "paddingOuter": 0.42}},
            "y": {"field": "y", "type": "quantitative", "scale": {"domain": [0, 2.25], "nice": false}},
            "text": {"field": "label"}
          }
        }
      ]
    },
    {"width": 257, "height": 77, "data": {"values": [{"k": 0}]}, "mark": {"type": "point", "opacity": 0}, "view": {"stroke": null}},
    {"width": 257, "height": 77, "data": {"values": [{"k": 0}]}, "mark": {"type": "point", "opacity": 0}, "view": {"stroke": null}},
    {
      "width": 257, "height": 257,
      "title": {"text": "E", "dx": -41, "offset": -12},
      "layer": [
        {
          "data": {"name": "bars"},
          "transform": [{"filter": "datum.panel == 'VascNum'"}],
          "mark": {"type": "bar", "stroke": "#333333", "strokeWidth": 1.5},
          "encoding": {
            "x": {"field": "group", "type": "nominal",
              "scale": {"domain": ["Control", "Intradermal BCG", "Intradermal BCG / Ad", "Airway BCG / Ad", "Control / Ad"], "paddingInner": 0.05, "paddingOuter": 0.42},
              "axis": {"labels": false, "tickSize": 5, "title": null}},
            "y": {"field": "mean", "type": "quantitative", "scale": {"domain": [0, 38000], "nice": false},
              "axis": {"values": [0, 5000, 10000, 15000, 20000, 25000, 30000, 35000], "tickCount": 100, "labelOverlap": false,
                "labelExpr": "datum.value == 0 ? '0' : (datum.value % 10000 == 0 ? (datum.value / 10000) + '×10⁴' : '')",
                "labelFontWeight": {"condition": {"test": "datum.value == 0", "value": "bold"}, "value": "normal"},
                "labelFontSize": {"condition": {"test": "datum.value == 0", "value": 12}, "value": 11},
                "tickSize": {"condition": {"test": "datum.value % 10000 == 0", "value": 5}, "value": 3},
                "title": ["# cytokine⁺ in", "lung compartment"], "titleFontSize": 29, "titleX": -90, "titleY": 128.5,
                "titleAngle": -90, "titleAlign": "center", "titleBaseline": "alphabetic", "titleLineHeight": 33}},
            "color": {"field": "group", "type": "nominal",
              "scale": {"domain": ["Control", "Intradermal BCG", "Intradermal BCG / Ad", "Airway BCG / Ad", "Control / Ad"], "range": ["#ffffff", "#00918d", "#ff6eb4", "#b36bff", "#b9dcff"]},
              "legend": null}
          }
        },
        {
          "data": {"name": "bars"},
          "transform": [{"filter": "datum.panel == 'VascNum'"}],
          "mark": {"type": "rule", "color": "#333333", "strokeWidth": 1.3},
          "encoding": {
            "x": {"field": "group", "type": "nominal", "scale": {"domain": ["Control", "Intradermal BCG", "Intradermal BCG / Ad", "Airway BCG / Ad", "Control / Ad"], "paddingInner": 0.05, "paddingOuter": 0.42}},
            "y": {"field": "mean", "type": "quantitative", "scale": {"domain": [0, 38000], "nice": false}},
            "y2": {"field": "upper"}
          }
        },
        {
          "data": {"name": "bars"},
          "transform": [{"filter": "datum.panel == 'VascNum'"}],
          "mark": {"type": "tick", "color": "#333333", "thickness": 1.3, "size": 24},
          "encoding": {
            "x": {"field": "group", "type": "nominal", "scale": {"domain": ["Control", "Intradermal BCG", "Intradermal BCG / Ad", "Airway BCG / Ad", "Control / Ad"], "paddingInner": 0.05, "paddingOuter": 0.42}},
            "y": {"field": "upper", "type": "quantitative", "scale": {"domain": [0, 38000], "nice": false}}
          }
        }
      ]
    },
    {
      "width": 257, "height": 257,
      "layer": [
        {
          "data": {"name": "bars"},
          "transform": [{"filter": "datum.panel == 'ParNum'"}],
          "mark": {"type": "bar", "stroke": "#333333", "strokeWidth": 1.5},
          "encoding": {
            "x": {"field": "group", "type": "nominal",
              "scale": {"domain": ["Control", "Intradermal BCG", "Intradermal BCG / Ad", "Airway BCG / Ad", "Control / Ad"], "paddingInner": 0.05, "paddingOuter": 0.42},
              "axis": {"labels": false, "tickSize": 5, "title": null}},
            "y": {"field": "mean", "type": "quantitative", "scale": {"domain": [0, 38000], "nice": false},
              "axis": {"values": [0, 5000, 10000, 15000, 20000, 25000, 30000, 35000], "tickCount": 100, "labels": false,
                "tickSize": {"condition": {"test": "datum.value % 10000 == 0", "value": 5}, "value": 3},
                "title": null}},
            "color": {"field": "group", "type": "nominal",
              "scale": {"domain": ["Control", "Intradermal BCG", "Intradermal BCG / Ad", "Airway BCG / Ad", "Control / Ad"], "range": ["#ffffff", "#00918d", "#ff6eb4", "#b36bff", "#b9dcff"]},
              "legend": null}
          }
        },
        {
          "data": {"name": "bars"},
          "transform": [{"filter": "datum.panel == 'ParNum'"}],
          "mark": {"type": "rule", "color": "#333333", "strokeWidth": 1.3},
          "encoding": {
            "x": {"field": "group", "type": "nominal", "scale": {"domain": ["Control", "Intradermal BCG", "Intradermal BCG / Ad", "Airway BCG / Ad", "Control / Ad"], "paddingInner": 0.05, "paddingOuter": 0.42}},
            "y": {"field": "mean", "type": "quantitative", "scale": {"domain": [0, 38000], "nice": false}},
            "y2": {"field": "upper"}
          }
        },
        {
          "data": {"name": "bars"},
          "transform": [{"filter": "datum.panel == 'ParNum'"}],
          "mark": {"type": "tick", "color": "#333333", "thickness": 1.3, "size": 24},
          "encoding": {
            "x": {"field": "group", "type": "nominal", "scale": {"domain": ["Control", "Intradermal BCG", "Intradermal BCG / Ad", "Airway BCG / Ad", "Control / Ad"], "paddingInner": 0.05, "paddingOuter": 0.42}},
            "y": {"field": "upper", "type": "quantitative", "scale": {"domain": [0, 38000], "nice": false}}
          }
        },
        {
          "data": {"name": "bracket_h"},
          "transform": [{"filter": "datum.panel == 'ParNum'"}],
          "mark": {"type": "rule", "color": "#333333", "strokeWidth": 1.5},
          "encoding": {
            "x": {"field": "from", "type": "nominal", "scale": {"domain": ["Control", "Intradermal BCG", "Intradermal BCG / Ad", "Airway BCG / Ad", "Control / Ad"], "paddingInner": 0.05, "paddingOuter": 0.42}},
            "x2": {"field": "to"},
            "y": {"field": "y", "type": "quantitative", "scale": {"domain": [0, 38000], "nice": false}}
          }
        },
        {
          "data": {"name": "bracket_v"},
          "transform": [{"filter": "datum.panel == 'ParNum'"}],
          "mark": {"type": "rule", "color": "#333333", "strokeWidth": 1.5},
          "encoding": {
            "x": {"field": "group", "type": "nominal", "scale": {"domain": ["Control", "Intradermal BCG", "Intradermal BCG / Ad", "Airway BCG / Ad", "Control / Ad"], "paddingInner": 0.05, "paddingOuter": 0.42}},
            "y": {"field": "y", "type": "quantitative", "scale": {"domain": [0, 38000], "nice": false}},
            "y2": {"field": "y2"}
          }
        },
        {
          "data": {"name": "stars"},
          "transform": [{"filter": "datum.panel == 'ParNum'"}],
          "mark": {"type": "text", "angle": 90, "fontSize": 17, "fontWeight": "bold", "color": "#222222"},
          "encoding": {
            "x": {"field": "group", "type": "nominal", "scale": {"domain": ["Control", "Intradermal BCG", "Intradermal BCG / Ad", "Airway BCG / Ad", "Control / Ad"], "paddingInner": 0.05, "paddingOuter": 0.42}},
            "y": {"field": "y", "type": "quantitative", "scale": {"domain": [0, 38000], "nice": false}},
            "text": {"field": "label"}
          }
        }
      ]
    }
  ]
}
